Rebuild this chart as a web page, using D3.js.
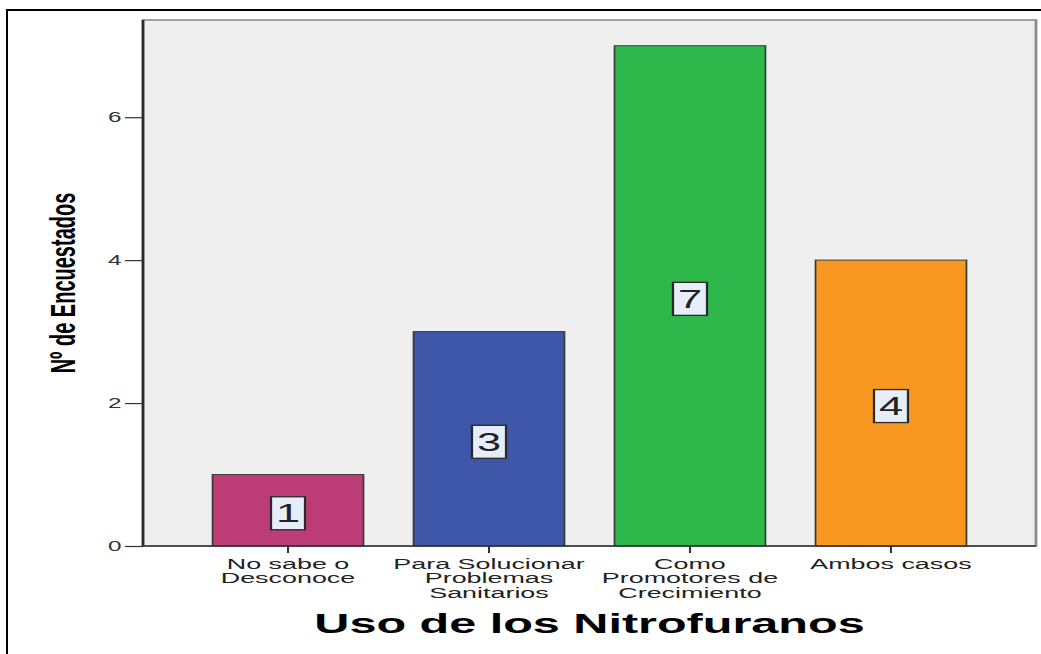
<!DOCTYPE html>
<html lang="es">
<head>
<meta charset="UTF-8">
<title>Uso de los Nitrofuranos</title>
<style>
  html, body { margin: 0; padding: 0; background: #fff; }
  svg { display: block; }
  text { font-family: "Liberation Sans", Arial, sans-serif; }
</style>
</head>
<body>
<div class="graph"></div>
<script src="https://d3js.org/d3.v7.min.js"></script>
<script>
  // data
  var categories = ["No sabe o Desconoce", "Para Solucionar Problemas Sanitarios",
                    "Como Promotores de Crecimiento", "Ambos casos"];
  var tickLines = [["No sabe o", "Desconoce"],
                   ["Para Solucionar", "Problemas", "Sanitarios"],
                   ["Como", "Promotores de", "Crecimiento"],
                   ["Ambos casos"]];
  var counts = [1, 3, 7, 4];
  var yTicks = [0, 2, 4, 6];
  var colors = ["#bc3c78", "#3e56a8", "#2eb74a", "#f89820"];

  // the original picture is stretched sideways, so draw in a narrow box and stretch it
  var W = 1041, H = 654, W0 = 600;
  var SX = W / W0;
  function px(v) { return v / SX; }

  var plotL = px(143), plotR = px(1036), plotT = 20, plotB = 546;

  var svg = d3.select(".graph")
      .append("svg")
      .attr("width", W)
      .attr("height", H)
      .attr("viewBox", "0 0 " + W0 + " " + H)
      .attr("preserveAspectRatio", "none");

  // outer frame
  svg.append("path")
      .attr("d", "M" + px(1045) + ",10H" + px(7) + "V" + (H + 5))
      .attr("fill", "none")
      .attr("stroke", "#000")
      .attr("stroke-width", 2)
      .attr("vector-effect", "non-scaling-stroke");

  var x = d3.scaleBand()
      .domain(categories)
      .range([plotL, plotR])
      .paddingInner(0.249)
      .paddingOuter(0.346);

  var y = d3.scaleLinear()
      .domain([0, 7.36])
      .range([plotB, plotT]);

  // plot background
  svg.append("rect")
      .attr("x", plotL)
      .attr("y", plotT)
      .attr("width", plotR - plotL)
      .attr("height", plotB - plotT)
      .attr("fill", "#efefef")
      .attr("stroke", "#8c8c8c")
      .attr("stroke-width", 1.6);

  // bars
  var bars = svg.selectAll(".bar").data(counts).enter().append("g").attr("class", "bar");
  bars.append("rect")
      .attr("x", function(d, i) { return x(categories[i]); })
      .attr("y", function(d) { return y(d); })
      .attr("width", x.bandwidth())
      .attr("height", function(d) { return y(0) - y(d); })
      .attr("fill", function(d, i) { return colors[i]; })
      .attr("stroke", "#3a3a3a")
      .attr("stroke-width", 1);

  // value labels in small boxes
  var boxW = px(34), boxH = 33;
  bars.append("rect")
      .attr("x", function(d, i) { return x(categories[i]) + x.bandwidth() / 2 - boxW / 2; })
      .attr("y", function(d) { return y(d / 2) + 3 - boxH / 2; })
      .attr("width", boxW)
      .attr("height", boxH)
      .attr("fill", "#e6eefa")
      .attr("stroke", "#2a2a2a")
      .attr("stroke-width", 1.3);
  bars.append("text")
      .attr("x", function(d, i) { return x(categories[i]) + x.bandwidth() / 2; })
      .attr("y", function(d) { return y(d / 2) + 3; })
      .attr("dy", "0.36em")
      .attr("text-anchor", "middle")
      .attr("font-size", 25)
      .attr("fill", "#222")
      .text(function(d) { return d; });

  // y axis
  var yAxis = svg.append("g")
      .attr("transform", "translate(" + plotL + ",0)")
      .call(d3.axisLeft(y).tickValues(yTicks).tickFormat(d3.format("d"))
            .tickSize(px(18)).tickPadding(2));
  yAxis.select(".domain").attr("stroke", "#2a2a2a").attr("stroke-width", 1.5)
      .attr("d", "M0," + plotT + "V" + plotB);
  yAxis.selectAll(".tick line").attr("stroke", "#333").attr("stroke-width", 1.2);
  yAxis.selectAll(".tick text").attr("font-size", 14).attr("fill", "#333")
      .style("font-family", "'Liberation Sans', Arial, sans-serif");

  // x axis
  var xAxis = svg.append("g")
      .attr("transform", "translate(0," + plotB + ")")
      .call(d3.axisBottom(x).tickSize(7).tickFormat(""));
  xAxis.select(".domain").attr("stroke", "#333").attr("stroke-width", 1.3)
      .attr("d", "M" + plotL + ",0H" + plotR);
  xAxis.selectAll(".tick line").attr("stroke", "#333").attr("stroke-width", 1.2);

  svg.append("g").selectAll("text").data(categories).enter().append("text")
      .attr("x", function(d) { return x(d) + x.bandwidth() / 2; })
      .attr("y", plotB + 23)
      .attr("text-anchor", "middle")
      .attr("font-size", 15.5)
      .attr("fill", "#222")
      .each(function(d, i) {
        var t = d3.select(this);
        tickLines[i].forEach(function(line, k) {
          t.append("tspan")
              .attr("x", x(d) + x.bandwidth() / 2)
              .attr("dy", k === 0 ? 0 : 14.5)
              .text(line);
        });
      });

  // axis titles
  svg.append("text")
      .attr("x", (plotL + plotR) / 2)
      .attr("y", 633)
      .attr("text-anchor", "middle")
      .attr("font-size", 28)
      .attr("font-weight", "bold")
      .attr("fill", "#000")
      .text("Uso de los Nitrofuranos");

  svg.append("text")
      .attr("transform", "translate(" + px(75) + "," + ((plotT + plotB) / 2) + ") rotate(-90)")
      .attr("text-anchor", "middle")
      .attr("font-size", 20)
      .attr("font-weight", "bold")
      .attr("fill", "#000")
      .text("Nº de Encuestados");
</script>
</body>
</html>
